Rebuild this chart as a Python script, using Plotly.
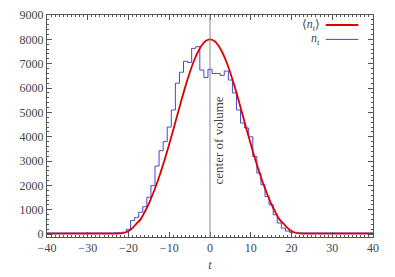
import plotly.graph_objects as go

# histogram n_t : bin centres (width 1) and counts
bin_t = [-40, -35, -30, -25, -22, -21, -20, -19, -18, -17, -16, -15, -14, -13, -12, -11,
         -10, -9, -8, -7, -6, -5, -4, -3, -2, -1, 0, 1, 2, 3, 4, 5, 6, 7, 8, 9,
         10, 11, 12, 13, 14, 15, 16, 17, 18, 19, 20, 21, 22, 25, 30, 35, 40]
n_t = [50, 50, 50, 50, 60, 80, 200, 560, 690, 900, 1130, 1520, 1990, 2800, 3430, 3800,
       4400, 5100, 6200, 6650, 7100, 7050, 7630, 7700, 6740, 6430, 6770, 6600, 6600, 6520, 6700, 6330, 5800, 5100, 4560, 4360,
       4000, 3190, 2510, 2030, 1550, 1210, 800, 460, 250, 130, 80, 60, 50, 50, 50, 50, 50]

# mean <n_t> curve read at points
mean_t = [-40, -30, -25, -22, -21, -20, -19, -18, -17, -16, -15, -14, -13, -12, -11, -10,
          -9, -8, -7, -6, -5, -4, -3, -2, -1, 0, 1, 2, 3, 4, 5, 6, 7, 8, 9, 10,
          11, 12, 13, 14, 15, 16, 17, 18, 19, 20, 21, 22, 25, 30, 40]
mean_n = [20, 20, 20, 30, 60, 130, 260, 440, 620, 920, 1260, 1660, 2100, 2600, 3130, 3700,
          4290, 4900, 5510, 6090, 6620, 7090, 7470, 7760, 7940, 8000, 7940, 7760, 7470, 7090, 6620, 6090, 5510, 4900, 4290, 3700,
          3130, 2600, 2100, 1660, 1260, 920, 620, 440, 260, 130, 60, 30, 20, 20, 20]

x_ticks = [-40, -30, -20, -10, 0, 10, 20, 30, 40]
y_ticks = [0, 1000, 2000, 3000, 4000, 5000, 6000, 7000, 8000, 9000]

serif = "Liberation Serif, DejaVu Serif, serif"
axcol = "#555555"
txtcol = "#444444"

fig = go.Figure()
fig.add_trace(go.Scatter(x=bin_t, y=n_t, mode="lines", line=dict(color="#4646cc", width=1, shape="hvh"),
                         showlegend=False))
fig.add_trace(go.Scatter(x=mean_t, y=mean_n, mode="lines", line=dict(color="#dd0000", width=1.8, shape="spline"),
                         showlegend=False))

# centre of volume line
fig.add_shape(type="line", xref="x", yref="paper", x0=0, x1=0, y0=0, y1=1,
              line=dict(color="#888888", width=1))
fig.add_annotation(x=0, y=3850, xref="x", yref="y", text="center of volume", textangle=-90,
                   showarrow=False, xshift=8, font=dict(family=serif, size=13, color=txtcol))

# legend (text left, sample right)
leg = [("⟨<i>n<sub>t</sub></i>⟩", "#dd0000", 0.955), ("<i>n<sub>t</sub></i>", "#4646cc", 0.89)]
for txt, col, yy in leg:
    fig.add_annotation(x=0.845, y=yy, xref="paper", yref="paper", text=txt, showarrow=False,
                       xanchor="right", yanchor="middle", font=dict(family=serif, size=12, color=txtcol))
    fig.add_shape(type="line", xref="paper", yref="paper", x0=0.855, x1=0.955, y0=yy, y1=yy,
                  line=dict(color=col, width=1.8 if col == "#dd0000" else 1))

axis_common = dict(showgrid=False, zeroline=False, showline=True, linecolor=axcol, linewidth=1,
                   mirror="allticks", ticks="inside", ticklen=5, tickcolor=axcol,
                   tickfont=dict(family=serif, size=12, color=txtcol))
fig.update_xaxes(range=[-40, 40], tickvals=x_ticks, ticktext=[str(v).replace("-", "−") for v in x_ticks],
                 minor=dict(dtick=1, ticklen=2, ticks="inside", tickcolor=axcol),
                 title=dict(text="<i>t</i>", font=dict(family=serif, size=12, color=txtcol), standoff=6),
                 **axis_common)
fig.update_yaxes(range=[-115, 9000], tickvals=y_ticks,
                 minor=dict(dtick=200, ticklen=2, ticks="inside", tickcolor=axcol),
                 **axis_common)
# page body adds an 8px offset; margins compensate for it
fig.update_layout(width=395, height=277, margin=dict(l=39, r=30, t=7, b=48, autoexpand=False),
                  plot_bgcolor="white", paper_bgcolor="white", showlegend=False)
fig.write_html("out.html")
